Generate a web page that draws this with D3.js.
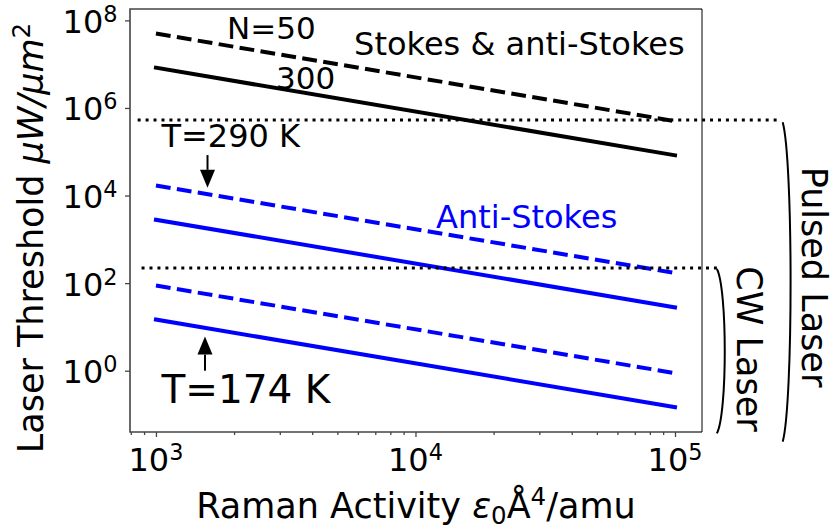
<!DOCTYPE html>
<html>
<head>
<meta charset="utf-8">
<script src="https://cdn.jsdelivr.net/npm/d3@7"></script>
<style>
  body { margin: 0; background: #fff; }
  text { font-family: "DejaVu Sans", sans-serif; }
</style>
</head>
<body>
<svg id="chart" width="834" height="531"></svg>
<script>
// Raman activity at the two ends of every threshold line
const activity = [1e3, 1e5];

// Laser threshold (µW/µm²) at each end of the line
const stokesN50 = [5.0e7, 5.0e5];
const stokesN300 = [8.3e6, 8.3e4];
const antiT290N50 = [1.7e4, 1.7e2];
const antiT290N300 = [2.8e3, 2.8e1];
const antiT174N50 = [88, 0.88];
const antiT174N300 = [14.7, 0.147];

const series = [
  { values: stokesN50, color: "#000000", dashed: true },
  { values: stokesN300, color: "#000000", dashed: false },
  { values: antiT290N50, color: "#0000ff", dashed: true },
  { values: antiT290N300, color: "#0000ff", dashed: false },
  { values: antiT174N50, color: "#0000ff", dashed: true },
  { values: antiT174N300, color: "#0000ff", dashed: false }
];

// Laser regime limits (pulsed, CW)
const limitLevels = [5.3e5, 220];
const limitSpans = [[850, 2.5e5], [880, 1.45e5]];

// Regime brackets: x position and vertical extent
const bracketX = [2.6e5, 1.45e5];
const bracketSpans = [[4.7e5, 0.024], [210, 0.037]];

// Tick values and their exponents
const xTicks = [1e3, 1e4, 1e5];
const xTickExp = ["3", "4", "5"];
const xMinor = [800, 900, 2e3, 3e3, 4e3, 5e3, 6e3, 7e3, 8e3, 9e3,
                2e4, 3e4, 4e4, 5e4, 6e4, 7e4, 8e4, 9e4];
const yTicks = [1e0, 1e2, 1e4, 1e6, 1e8];
const yTickExp = ["0", "2", "4", "6", "8"];

// Annotations (data coordinates, baseline-left)
const notes = [
  { text: "N=50", x: 1880, y: 3.7e7, size: 31, color: "#000" },
  { text: "300", x: 2900, y: 2.66e6, size: 31, color: "#000" },
  { text: "Stokes & anti-Stokes", x: 5800, y: 1.6e7, size: 32, color: "#000" },
  { text: "Anti-Stokes", x: 12000, y: 1780, size: 32, color: "#0000ff" },
  { text: "T=290 K", x: 1050, y: 1.3e5, size: 32, color: "#000" },
  { text: "T=174 K", x: 1050, y: 0.18, size: 39, color: "#000" }
];
// Arrows: x, tail, tip
const arrows = [
  { x: 1580, from: 8.4e4, to: 1.5e4 },
  { x: 1545, from: 1.0, to: 6.0 }
];
// Rotated regime labels (centre in data coordinates, baseline side)
const regimeLabels = [
  { text: "Pulsed Laser", x: 3.08e5, y: 138, size: 35 },
  { text: "CW Laser", x: 1.73e5, y: 3.13, size: 35 }
];

const svg = d3.select("#chart");
const plot = { left: 130, right: 702, top: 9, bottom: 432 };

const x = d3.scaleLog().domain([Math.pow(10, 2.9), Math.pow(10, 5.104)])
  .range([plot.left, plot.right]);
const y = d3.scaleLog().domain([Math.pow(10, -1.4), Math.pow(10, 8.26)])
  .range([plot.bottom, plot.top]);

svg.append("defs").append("clipPath").attr("id", "plotClip")
  .append("rect")
  .attr("x", plot.left).attr("y", plot.top)
  .attr("width", plot.right - plot.left).attr("height", plot.bottom - plot.top);

// threshold lines
const lineGen = d3.line().x(d => x(d[0])).y(d => y(d[1]));
const lines = svg.append("g").attr("clip-path", "url(#plotClip)");
series.forEach(s => {
  lines.append("path")
    .attr("d", lineGen(activity.map((a, i) => [a, s.values[i]])))
    .attr("fill", "none")
    .attr("stroke", s.color)
    .attr("stroke-width", 4)
    .attr("stroke-linecap", s.dashed ? "butt" : "square")
    .attr("stroke-dasharray", s.dashed ? "14.8,6.4" : null);
});

// regime limits (dotted) extending past the axes
limitLevels.forEach((lv, i) => {
  svg.append("path")
    .attr("d", lineGen(limitSpans[i].map(a => [a, lv])))
    .attr("fill", "none")
    .attr("stroke", "#000")
    .attr("stroke-width", 3)
    .attr("stroke-dasharray", "3,4.95");
});

// brackets
bracketX.forEach((bx, i) => {
  const x0 = x(bx);
  const yT = y(bracketSpans[i][0]);
  const yB = y(bracketSpans[i][1]);
  const h = yB - yT;
  const k = 10.5;
  svg.append("path")
    .attr("d", `M${x0},${yT} C${x0 + k},${yT + 0.12 * h} ${x0 + k},${yB - 0.12 * h} ${x0},${yB}`)
    .attr("fill", "none")
    .attr("stroke", "#000")
    .attr("stroke-width", 2);
});

// axes
const spineColor = "#444";
const xAxisMajor = d3.axisBottom(x).tickValues(xTicks).tickFormat("").tickSize(5).tickSizeOuter(0);
const xAxisMinor = d3.axisBottom(x).tickValues(xMinor).tickFormat("").tickSize(3).tickSizeOuter(0);
const yAxis = d3.axisLeft(y).tickValues(yTicks).tickFormat("").tickSize(5).tickSizeOuter(0);

function styleAxis(g) {
  g.select(".domain").remove();
  g.selectAll(".tick line").attr("stroke", spineColor).attr("stroke-width", 1.3);
}
svg.append("g").attr("transform", `translate(0,${plot.bottom})`).call(xAxisMinor).call(styleAxis);
svg.append("g").attr("transform", `translate(0,${plot.bottom})`).call(xAxisMajor).call(styleAxis);
svg.append("g").attr("transform", `translate(${plot.left},0)`).call(yAxis).call(styleAxis);

// spines
svg.append("path")
  .attr("d", `M${plot.right},${plot.top} L${plot.left},${plot.top} L${plot.left},${plot.bottom} L${plot.right},${plot.bottom}`)
  .attr("fill", "none").attr("stroke", spineColor).attr("stroke-width", 1.6);
svg.append("line")
  .attr("x1", plot.right).attr("x2", plot.right)
  .attr("y1", plot.top).attr("y2", plot.bottom)
  .attr("stroke", "#000").attr("stroke-width", 1);

// tick labels with superscript exponents
const tickSize = 32;
xTicks.forEach((v, i) => {
  const t = svg.append("text")
    .attr("x", x(v)).attr("y", plot.bottom + 38.7)
    .attr("text-anchor", "middle")
    .attr("font-size", tickSize);
  t.append("tspan").text("10");
  t.append("tspan").attr("font-size", tickSize * 0.7).attr("dy", -11).text(xTickExp[i]);
});
yTicks.forEach((v, i) => {
  const t = svg.append("text")
    .attr("x", plot.left - 12.5).attr("y", y(v) + 12.4)
    .attr("text-anchor", "end")
    .attr("font-size", tickSize);
  t.append("tspan").text("10");
  t.append("tspan").attr("font-size", tickSize * 0.7).attr("dy", -11).text(yTickExp[i]);
});

// axis titles
const labelSize = 35;
const xl = svg.append("text")
  .attr("x", (plot.left + plot.right) / 2).attr("y", 518.3)
  .attr("text-anchor", "middle").attr("font-size", labelSize);
xl.append("tspan").text("Raman Activity ");
xl.append("tspan").attr("font-style", "italic").text("ε");
xl.append("tspan").attr("font-size", labelSize * 0.7).attr("dy", 6).text("0");
xl.append("tspan").attr("dy", -6).text("Å");
xl.append("tspan").attr("font-size", labelSize * 0.7).attr("dy", -13).text("4");
xl.append("tspan").attr("dy", 13).text("/amu");

const yl = svg.append("text")
  .attr("transform", `translate(43.3,453.3) rotate(-90)`)
  .attr("text-anchor", "start").attr("font-size", labelSize);
yl.append("tspan").text("Laser Threshold ");
yl.append("tspan").attr("font-style", "italic").text("μW/μm");
yl.append("tspan").attr("font-size", labelSize * 0.7).attr("dy", -13).text("2");

// annotations
notes.forEach(n => {
  svg.append("text")
    .attr("x", x(n.x)).attr("y", y(n.y))
    .attr("font-size", n.size)
    .attr("fill", n.color)
    .text(n.text);
});

// arrows
arrows.forEach(a => {
  const ax = x(a.x), y0 = y(a.from), y1 = y(a.to);
  const dir = Math.sign(y1 - y0);
  const headLen = 18, headW = 7.5;
  svg.append("line")
    .attr("x1", ax).attr("x2", ax)
    .attr("y1", y0).attr("y2", y1 - dir * headLen)
    .attr("stroke", "#000").attr("stroke-width", 2);
  svg.append("path")
    .attr("d", `M${ax},${y1} L${ax - headW},${y1 - dir * headLen} L${ax + headW},${y1 - dir * headLen} Z`)
    .attr("fill", "#000");
});

// regime labels, reading downward
regimeLabels.forEach(r => {
  svg.append("text")
    .attr("transform", `translate(${x(r.x)},${y(r.y)}) rotate(90)`)
    .attr("text-anchor", "middle")
    .attr("font-size", r.size)
    .text(r.text);
});
</script>
</body>
</html>
